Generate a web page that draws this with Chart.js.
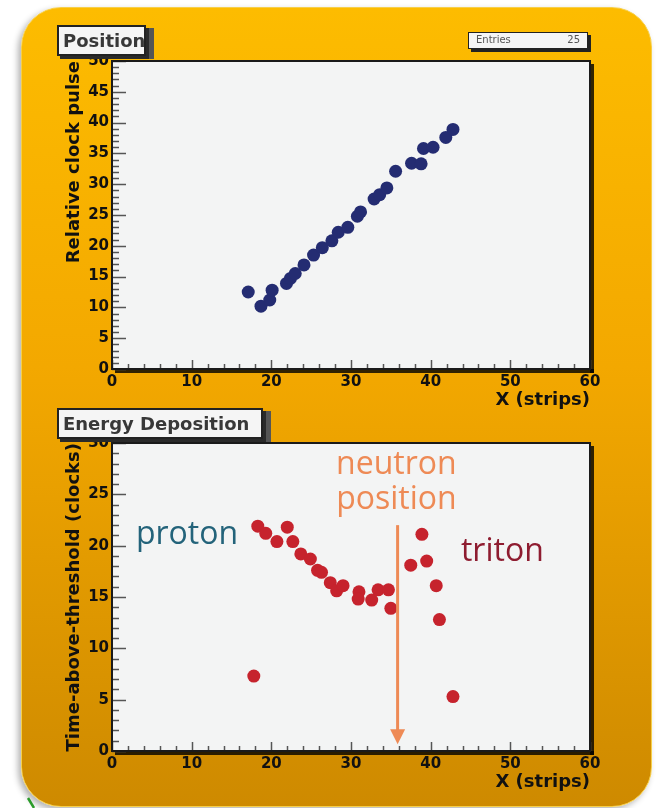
<!DOCTYPE html>
<html>
<head>
<meta charset="utf-8">
<script src="https://cdn.jsdelivr.net/npm/chart.js@4.4.1/dist/chart.umd.min.js"></script>
<style>
    html, body { margin: 0; padding: 0; background: #fff; }
    #stage { position: relative; width: 656px; height: 808px; overflow: hidden; filter: blur(0.5px); }
    .panel {
        position: absolute; left: 21px; top: 7px; width: 631px; height: 800px;
        border-radius: 40px; box-sizing: border-box;
        background: linear-gradient(#FDBC00 0%, #F3A800 45%, #CE8A00 100%);
        border: 1px solid #F6CF4A;
        box-shadow: -3px 3px 6px rgba(0,0,0,0.3);
    }
    .chart-wrap { position: absolute; left: 0; width: 656px; }
    .tbox {
        position: absolute; box-sizing: border-box;
        background: #F5F5F5; border: 2px solid #222;
        box-shadow: 3px 3px 0 #2a2a2a, 8px 3px 0 #555;
        font: bold 18px 'DejaVu Sans', sans-serif; color: #383838;
        padding-left: 4px; line-height: 27px; white-space: nowrap;
    }
    .stats {
        position: absolute; left: 468px; top: 32px; width: 120px; height: 17px; box-sizing: border-box;
        background: #F5F5F5; border: 1.5px solid #222; box-shadow: 3px 3px 0 #222;
        font: 10px 'DejaVu Sans', sans-serif; color: #555; line-height: 14px;
        display: flex; justify-content: space-between; padding: 0 7px;
    }
    svg.mark { position: absolute; left: 0; top: 0; }
</style>
</head>
<body>
<div id="stage">
    <div class="panel"></div>
    <div class="chart-wrap" style="top:0; height:420px;"><canvas id="posChart" width="656" height="420"></canvas></div>
    <div class="chart-wrap" style="top:420px; height:388px;"><canvas id="energyChart" width="656" height="388"></canvas></div>
    <div class="tbox" style="left:57px; top:25px; width:89px; height:31px;">Position</div>
    <div class="tbox" style="left:57px; top:408px; width:206px; height:31px;">Energy Deposition</div>
    <div class="stats"><span>Entries</span><span>25</span></div>
    <svg class="mark" width="656" height="808"><line x1="28" y1="798" x2="34" y2="808" stroke="#2b9b2b" stroke-width="2.5"/></svg>
</div>

<script>
// Data
const posX = [17.1, 18.7, 19.8, 20.1, 21.9, 22.4, 23.0, 24.1, 25.3, 26.4, 27.6, 28.4, 29.6, 30.8, 31.2, 32.9, 33.6, 34.5, 35.6, 37.6, 38.8, 39.1, 40.3, 41.9, 42.8];
const posY = [12.5, 10.2, 11.2, 12.8, 13.9, 14.7, 15.5, 16.9, 18.5, 19.7, 20.8, 22.2, 23.0, 24.8, 25.5, 27.6, 28.3, 29.4, 32.1, 33.4, 33.3, 35.8, 36.0, 37.6, 38.9];
const engX = [17.8, 18.3, 19.3, 20.7, 22.0, 22.7, 23.7, 24.9, 25.8, 26.3, 27.4, 28.2, 29.0, 31.0, 30.9, 32.6, 33.4, 34.7, 35.0, 37.5, 38.9, 39.5, 40.7, 41.1, 42.8];
const engY = [7.3, 21.9, 21.2, 20.4, 21.8, 20.4, 19.2, 18.7, 17.6, 17.4, 16.4, 15.6, 16.1, 15.5, 14.8, 14.7, 15.7, 15.7, 13.9, 18.1, 21.1, 18.5, 16.1, 12.8, 5.3];

const xTicks = [0, 10, 20, 30, 40, 50, 60];
const posYTicks = [0, 5, 10, 15, 20, 25, 30, 35, 40, 45, 50];
const engYTicks = [0, 5, 10, 15, 20, 25, 30];

const xTitle = 'X (strips)';
const posYTitle = 'Relative clock pulse';
const engYTitle = 'Time-above-threshold (clocks)';

const axisFont = "'DejaVu Sans', sans-serif";

// ROOT style frame: grey pad, inward ticks, axis titles
const rootFrame = {
    id: 'rootFrame',
    beforeDraw(chart) {
        const { ctx, chartArea: a } = chart;
        ctx.save();
        ctx.fillStyle = 'rgba(0,0,0,0.8)';
        ctx.fillRect(a.right, a.top + 3, 4, a.bottom - a.top + 1);
        ctx.fillRect(a.left + 3, a.bottom, a.right - a.left + 1, 4);
        ctx.fillStyle = '#F3F4F4';
        ctx.fillRect(a.left, a.top, a.right - a.left, a.bottom - a.top);
        ctx.restore();
    },
    afterDatasetsDraw(chart, args, opts) {
        const { ctx, chartArea: a, scales } = chart;
        const xs = scales.x, ys = scales.y;
        ctx.save();
        ctx.strokeStyle = '#555';
        ctx.lineWidth = 1.5;
        ctx.beginPath();
        for (let v = ys.min; v <= ys.max; v += 1) {
            const y = Math.round(ys.getPixelForValue(v)) + 0.5;
            const len = v % 5 === 0 ? 14 : 7;
            ctx.moveTo(a.left, y);
            ctx.lineTo(a.left + len, y);
        }
        for (let v = xs.min; v <= xs.max; v += 2) {
            const x = Math.round(xs.getPixelForValue(v)) + 0.5;
            const len = v % 10 === 0 ? 9 : 5;
            ctx.moveTo(x, a.bottom);
            ctx.lineTo(x, a.bottom - len);
        }
        ctx.stroke();

        ctx.strokeStyle = '#1a1a1a';
        ctx.lineWidth = 2;
        ctx.strokeRect(a.left, a.top, a.right - a.left, a.bottom - a.top);

        ctx.fillStyle = '#111';
        ctx.font = 'bold 18px ' + axisFont;
        ctx.textAlign = 'right';
        ctx.textBaseline = 'alphabetic';
        ctx.fillText(opts.xTitle, a.right, a.bottom + 36);

        ctx.translate(79, a.top);
        ctx.rotate(-Math.PI / 2);
        ctx.fillText(opts.yTitle, 0, 0);
        ctx.restore();
    }
};

// Text labels and arrow on the energy plot, placed in data units
const notes = [
    { text: 'proton', x: 3.0, y: 20.2, align: 'left', color: '#23637A' },
    { text: 'neutron', x: 35.7, y: 27.0, align: 'center', color: '#EE8A55' },
    { text: 'position', x: 35.7, y: 23.6, align: 'center', color: '#EE8A55' },
    { text: 'triton', x: 43.8, y: 18.5, align: 'left', color: '#8E1C30' }
];
const arrow = { x: 35.85, from: 22.0, to: 0.65, color: '#EE8A55' };

const annotations = {
    id: 'annotations',
    afterDatasetsDraw(chart) {
        const { ctx, scales } = chart;
        ctx.save();
        ctx.font = "32px 'Open Sans', 'Noto Sans', sans-serif";
        ctx.textBaseline = 'alphabetic';
        notes.forEach(n => {
            ctx.fillStyle = n.color;
            ctx.textAlign = n.align;
            ctx.fillText(n.text, scales.x.getPixelForValue(n.x), scales.y.getPixelForValue(n.y));
        });
        const ax = scales.x.getPixelForValue(arrow.x);
        const y0 = scales.y.getPixelForValue(arrow.from);
        const y1 = scales.y.getPixelForValue(arrow.to);
        ctx.strokeStyle = arrow.color;
        ctx.fillStyle = arrow.color;
        ctx.lineWidth = 3;
        ctx.beginPath();
        ctx.moveTo(ax, y0);
        ctx.lineTo(ax, y1 - 12);
        ctx.stroke();
        ctx.beginPath();
        ctx.moveTo(ax - 7.5, y1 - 15);
        ctx.lineTo(ax + 7.5, y1 - 15);
        ctx.lineTo(ax, y1);
        ctx.closePath();
        ctx.fill();
        ctx.restore();
    }
};

function makeChart(id, xs, ys, color, yTicks, yTitle, padTop, xAxisHeight) {
    const points = xs.map((x, i) => ({ x: x, y: ys[i] }));
    const tickFont = { family: axisFont, size: 15, weight: 'bold' };
    return new Chart(document.getElementById(id), {
        type: 'scatter',
        data: {
            datasets: [{
                data: points,
                backgroundColor: color,
                borderColor: color,
                borderWidth: 0,
                pointRadius: 6.5,
                pointHoverRadius: 6.5
            }]
        },
        options: {
            responsive: false,
            animation: false,
            events: [],
            layout: { padding: { left: 0, top: padTop, right: 66, bottom: 0 } },
            plugins: {
                legend: { display: false },
                tooltip: { enabled: false },
                rootFrame: { xTitle: xTitle, yTitle: yTitle }
            },
            scales: {
                x: {
                    type: 'linear', min: 0, max: 60,
                    grid: { display: false, drawTicks: false },
                    border: { display: false },
                    afterBuildTicks: s => { s.ticks = xTicks.map(v => ({ value: v })); },
                    afterFit: s => { s.height = xAxisHeight; },
                    ticks: { font: tickFont, color: '#111', padding: 4, autoSkip: false, maxRotation: 0 }
                },
                y: {
                    type: 'linear', min: 0, max: yTicks[yTicks.length - 1],
                    grid: { display: false, drawTicks: false },
                    border: { display: false },
                    afterBuildTicks: s => { s.ticks = yTicks.map(v => ({ value: v })); },
                    afterFit: s => { s.width = 112; },
                    ticks: { font: tickFont, color: '#111', padding: 3, autoSkip: false }
                }
            }
        },
        plugins: id === 'energyChart' ? [rootFrame, annotations] : [rootFrame]
    });
}

makeChart('posChart', posX, posY, '#242C72', posYTicks, posYTitle, 61, 51);
makeChart('energyChart', engX, engY, '#C6232D', engYTicks, engYTitle, 23, 57);
</script>
</body>
</html>
